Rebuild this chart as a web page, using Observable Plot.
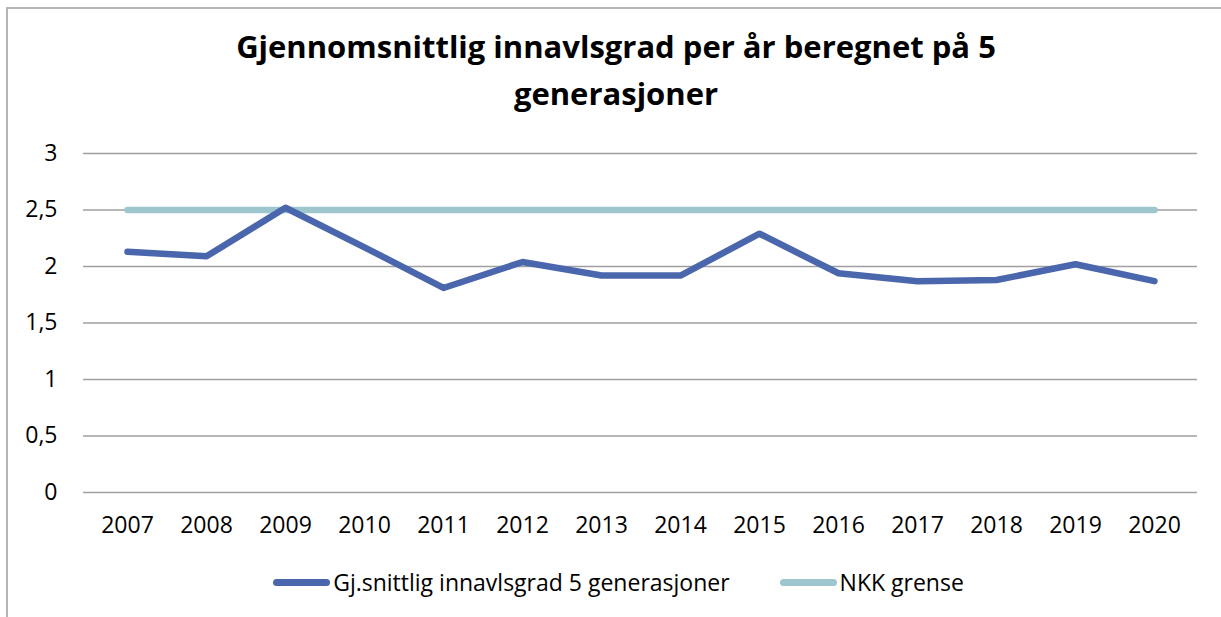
<!DOCTYPE html>
<html>
<head>
<meta charset="utf-8">
<script src="https://cdn.jsdelivr.net/npm/d3@7"></script>
<script src="https://cdn.jsdelivr.net/npm/@observablehq/plot@0.6"></script>
<style>
  html, body { margin: 0; padding: 0; background: #fff; }
  body { width: 1221px; height: 617px; overflow: hidden; position: relative; font-family: "Open Sans", sans-serif; color: #000; }
  #frame { position: absolute; left: 6px; top: 7px; width: 1300px; height: 700px; border-left: 2px solid #b5b5b5; border-top: 2px solid #b5b5b5; }
  #title { position: absolute; left: 0; top: 23px; width: 1232px; text-align: center; font-weight: 700; font-size: 31px; line-height: 47px; }
  #chart { position: absolute; left: 0; top: 130px; }
  #legend { position: absolute; left: 0; top: 566px; width: 1237px; display: flex; justify-content: center; align-items: center; gap: 50px; font-size: 23px; }
  .item { display: flex; align-items: center; gap: 3px; }
  .swatch { width: 57px; height: 7px; border-radius: 4px; }
</style>
</head>
<body>
<div id="frame"></div>
<div id="title">Gjennomsnittlig innavlsgrad per år beregnet på 5<br>generasjoner</div>
<div id="chart"></div>
<div id="legend"></div>
<script>
// ---- data ----
const years = ["2007","2008","2009","2010","2011","2012","2013","2014","2015","2016","2017","2018","2019","2020"];
const innavl = [2.13, 2.09, 2.52, 2.17, 1.81, 2.04, 1.92, 1.92, 2.29, 1.94, 1.87, 1.88, 2.02, 1.87];
const nkkGrense = [2.5, 2.5, 2.5, 2.5, 2.5, 2.5, 2.5, 2.5, 2.5, 2.5, 2.5, 2.5, 2.5, 2.5];
const yTicks = [0, 0.5, 1, 1.5, 2, 2.5, 3];
const seriesNames = ["Gj.snittlig innavlsgrad 5 generasjoner", "NKK grense"];
const seriesColors = ["#4a66ac", "#9dc6ce"];

const rows = [];
years.forEach((y, i) => {
  rows.push({year: y, value: innavl[i], series: seriesNames[0]});
  rows.push({year: y, value: nkkGrense[i], series: seriesNames[1]});
});

const chart = Plot.plot({
  width: 1221,
  height: 412,
  marginLeft: 83,
  marginRight: 24,
  marginTop: 23,
  marginBottom: 50,
  style: {fontFamily: "'Open Sans', sans-serif", fontSize: "23px", color: "#000", background: "transparent"},
  x: {type: "point", domain: years, padding: 0.5, label: null},
  y: {domain: [0, 3], label: null},
  color: {domain: seriesNames, range: seriesColors},
  marks: [
    Plot.ruleY(yTicks, {stroke: "#9f9f9f", strokeWidth: 1.3}),
    Plot.axisY({ticks: yTicks, tickSize: 0, tickPadding: 26, tickFormat: d => String(d).replace(".", ","), label: null, fontSize: 23}),
    Plot.axisX({tickSize: 0, tickPadding: 24, label: null, fontSize: 23}),
    Plot.line(rows.filter(d => d.series === seriesNames[1]), {x: "year", y: "value", stroke: "series", strokeWidth: 6.5, strokeLinecap: "round", strokeLinejoin: "round"}),
    Plot.line(rows.filter(d => d.series === seriesNames[0]), {x: "year", y: "value", stroke: "series", strokeWidth: 6.5, strokeLinecap: "round", strokeLinejoin: "round"})
  ]
});
document.getElementById("chart").appendChild(chart);

const legend = document.getElementById("legend");
seriesNames.forEach((name, i) => {
  const item = document.createElement("div");
  item.className = "item";
  const sw = document.createElement("div");
  sw.className = "swatch";
  sw.style.background = seriesColors[i];
  const t = document.createElement("span");
  t.textContent = name;
  item.appendChild(sw);
  item.appendChild(t);
  legend.appendChild(item);
});
</script>
</body>
</html>
